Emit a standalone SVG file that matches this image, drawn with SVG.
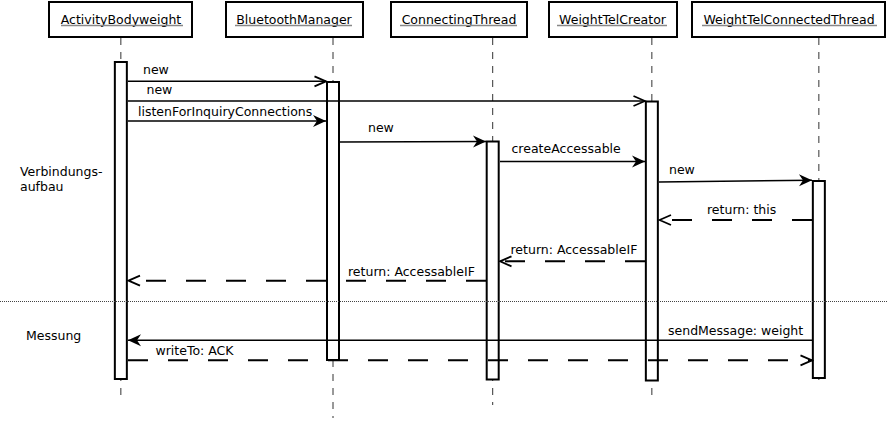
<svg xmlns="http://www.w3.org/2000/svg" width="887" height="422" viewBox="0 0 887 422">
<style>
text{font-family:"DejaVu Sans","Liberation Sans",sans-serif;font-size:12.5px;fill:#000}
.hdr{text-anchor:middle}
.box{fill:#fff;stroke:#000;stroke-width:2}
.ul{stroke:#888;stroke-width:1.5}
.life{stroke:#333;stroke-width:1;stroke-dasharray:7 7;fill:none}
.bar{fill:#fff;stroke:#000;stroke-width:2}
.msg{stroke:#000;stroke-width:1.6;fill:none}
.ret{stroke:#000;stroke-width:2;fill:none;stroke-dasharray:20 20}
.sep{stroke:#444;stroke-width:1;stroke-dasharray:1 1}
</style>
<defs>
<marker id="filled" markerUnits="userSpaceOnUse" viewBox="0 0 16 16" markerWidth="16" markerHeight="16" refX="15" refY="8" orient="auto">
<path d="M15,8 L2,2 L6,8 L2,14 Z" fill="#000"/>
</marker>
<marker id="open" markerUnits="userSpaceOnUse" viewBox="0 0 16 16" markerWidth="16" markerHeight="16" refX="14.5" refY="8" orient="auto">
<path d="M3,3 L14.5,8 L3,13" fill="none" stroke="#000" stroke-width="1.8"/>
</marker>
</defs>
<rect width="887" height="422" fill="#fff"/>

<g id="ActivityBodyweight">
<line class="life" x1="120.85" y1="38" x2="120.85" y2="402"/>
<rect class="box" x="49" y="2" width="143" height="35"/>
<text class="hdr" x="121" y="23.5">ActivityBodyweight</text>
<line class="ul" x1="61" y1="25.5" x2="183" y2="25.5"/>
<rect class="bar" x="114.85" y="62" width="12" height="317"/>
</g>

<g id="BluetoothManager">
<line class="life" x1="333" y1="38" x2="333" y2="418"/>
<rect class="box" x="226" y="2" width="137" height="35"/>
<text class="hdr" x="294" y="23.5">BluetoothManager</text>
<line class="ul" x1="235" y1="25.5" x2="352" y2="25.5"/>
<rect class="bar" x="327" y="82" width="12" height="278"/>
</g>

<g id="ConnectingThread">
<line class="life" x1="492.7" y1="38" x2="492.7" y2="405"/>
<rect class="box" x="391" y="2" width="136" height="35"/>
<text class="hdr" x="459" y="23.5">ConnectingThread</text>
<line class="ul" x1="400" y1="25.5" x2="517" y2="25.5"/>
<rect class="bar" x="486.7" y="141.5" width="12" height="238"/>
</g>

<g id="WeightTelCreator">
<line class="life" x1="651.85" y1="38" x2="651.85" y2="402"/>
<rect class="box" x="549" y="2" width="128" height="35"/>
<text class="hdr" x="612.5" y="23.5">WeightTelCreator</text>
<line class="ul" x1="557" y1="25.5" x2="667" y2="25.5"/>
<rect class="bar" x="645.85" y="101.5" width="12" height="279"/>
</g>

<g id="WeightTelConnectedThread">
<line class="life" x1="818.85" y1="38" x2="818.85" y2="380"/>
<rect class="box" x="692" y="2" width="193" height="35"/>
<text class="hdr" x="789" y="23.5">WeightTelConnectedThread</text>
<line class="ul" x1="702" y1="25.5" x2="877" y2="25.5"/>
<rect class="bar" x="812.85" y="181" width="12" height="197"/>
</g>

<g id="phases">
<text x="20" y="176">Verbindungs-</text>
<text x="20" y="191">aufbau</text>
<line class="sep" x1="0" y1="301.5" x2="887" y2="301.5"/>
<text x="26" y="340">Messung</text>
</g>

<g id="connectors">
<line class="msg" x1="128" y1="81.3" x2="326" y2="81.3" marker-end="url(#open)"/>
<text x="143" y="74">new</text>

<line class="msg" x1="128" y1="101" x2="645" y2="101" marker-end="url(#open)"/>
<text x="146.5" y="94">new</text>

<line class="msg" x1="128" y1="121" x2="326" y2="121" marker-end="url(#filled)"/>
<text x="138" y="115.5">listenForInquiryConnections</text>

<line class="msg" x1="340" y1="142" x2="486" y2="141.5" marker-end="url(#filled)"/>
<text x="368" y="131.5">new</text>

<line class="msg" x1="500" y1="161.5" x2="645" y2="161.5" marker-end="url(#filled)"/>
<text x="511.5" y="153">createAccessable</text>

<line class="msg" x1="659" y1="182" x2="812" y2="180.2" marker-end="url(#filled)"/>
<text x="669" y="174">new</text>

<line class="ret" x1="812" y1="220" x2="659.5" y2="220" marker-end="url(#open)"/>
<text x="707" y="214">return: this</text>

<line class="ret" x1="645" y1="261.3" x2="500" y2="261.3" marker-end="url(#open)"/>
<text x="510.5" y="254">return: AccessableIF</text>

<line class="ret" x1="486" y1="280.7" x2="128.5" y2="280.7" marker-end="url(#open)"/>
<text x="348" y="276">return: AccessableIF</text>

<line class="msg" style="stroke-width:1.4" x1="812" y1="340.3" x2="128" y2="340.3" marker-end="url(#filled)"/>
<text x="668" y="335">sendMessage: weight</text>

<line class="ret" x1="128" y1="360.3" x2="812" y2="360.3" marker-end="url(#open)"/>
<text x="155.5" y="355">writeTo: ACK</text>
</g>
</svg>
